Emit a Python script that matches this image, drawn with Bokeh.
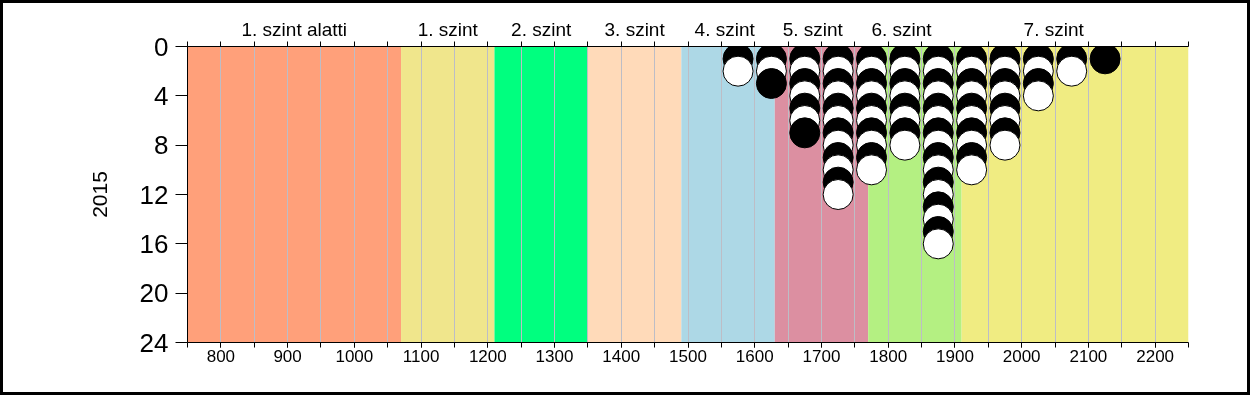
from bokeh.plotting import figure
from bokeh.models import LinearAxis, FixedTicker, Range1d, ColumnDataSource
from bokeh.embed import file_html
from bokeh.resources import INLINE

# ---- data ----
band_names = ["1. szint alatti", "1. szint", "2. szint", "3. szint",
              "4. szint", "5. szint", "6. szint", "7. szint"]
band_edges = [750, 1070, 1210, 1350, 1490, 1630, 1770, 1910, 2250]
band_colors = ["#FFA07A", "#F0E68C", "#00FF7F", "#FFDAB9",
               "#ADD8E6", "#DC8FA1", "#B4F082", "#F0EC82"]
band_label_x = [910, 1140, 1280, 1420, 1555, 1687, 1820, 2048]

bin_centers = [1575, 1625, 1675, 1725, 1775, 1825, 1875, 1925, 1975, 2025, 2075, 2125]
bin_counts = [2, 3, 7, 12, 10, 8, 16, 10, 8, 4, 2, 1]

x_ticks = list(range(800, 2201, 100))
x_minor = list(range(750, 2251, 50))
y_ticks = [0, 4, 8, 12, 16, 20, 24]
y_title = "2015"

FONT = "Liberation Sans"

p = figure(width=1250, height=395,
           x_range=Range1d(750, 2250), y_range=Range1d(24, 0),
           output_backend="svg", toolbar_location=None,
           min_border_left=184, min_border_right=65,
           min_border_top=43, min_border_bottom=56)
p.styles = {"border": "3px solid black", "position": "fixed",
            "left": "0px", "top": "0px"}
p.outline_line_color = None
p.background_fill_color = "white"
p.border_fill_color = "white"

# bands
bsrc = ColumnDataSource(dict(left=band_edges[:-1], right=band_edges[1:],
                             color=band_colors))
r = p.quad(left="left", right="right", top=0, bottom=24, fill_color="color",
           line_color=None, source=bsrc)
r.level = "image"

# grid
p.ygrid.visible = False
p.xgrid.ticker = FixedTicker(ticks=x_minor)
p.xgrid.grid_line_color = "#BDBDC6"
p.xgrid.grid_line_width = 1

# dots
xs, ys, cs = [], [], []
for c, n in zip(bin_centers, bin_counts):
    for k in range(1, n + 1):
        xs.append(c)
        ys.append(k)
        cs.append("black" if k % 2 == 1 else "white")
p.scatter(x=xs, y=ys, size=30, fill_color=cs, line_color="black",
          line_width=1)

# bottom axis
xa = p.xaxis[0]
xa.ticker = FixedTicker(ticks=x_ticks, minor_ticks=x_minor)
xa.major_tick_in = 0
xa.major_tick_out = 5
xa.minor_tick_in = 0
xa.minor_tick_out = 5
xa.major_label_text_font = FONT
xa.major_label_text_font_size = "17px"
xa.major_label_text_color = "black"
xa.major_label_standoff = 2
xa.axis_line_color = "black"
xa.major_tick_line_color = "black"
xa.minor_tick_line_color = "black"

# top axis with band names
ta = LinearAxis(ticker=FixedTicker(ticks=band_label_x, minor_ticks=x_minor),
                major_label_overrides={x: n for x, n in zip(band_label_x, band_names)})
ta.major_tick_in = 0
ta.major_tick_out = 0
ta.minor_tick_in = 0
ta.minor_tick_out = 5
ta.major_label_text_font = FONT
ta.major_label_text_font_size = "19px"
ta.major_label_text_color = "black"
ta.major_label_standoff = 2
ta.axis_line_color = "black"
ta.minor_tick_line_color = "black"
p.add_layout(ta, "above")

# left axis
ya = p.yaxis[0]
ya.ticker = FixedTicker(ticks=y_ticks)
ya.major_tick_in = 0
ya.major_tick_out = 12
ya.minor_tick_out = 0
ya.major_label_text_font = FONT
ya.major_label_text_font_size = "26px"
ya.major_label_text_color = "black"
ya.major_label_standoff = 7
ya.axis_line_color = "black"
ya.major_tick_line_color = "black"
ya.axis_label = y_title
ya.axis_label_text_font = FONT
ya.axis_label_text_font_style = "normal"
ya.axis_label_text_font_size = "21px"
ya.axis_label_text_color = "black"
ya.axis_label_standoff = 30

open("out.html", "w").write(file_html(p, INLINE))
